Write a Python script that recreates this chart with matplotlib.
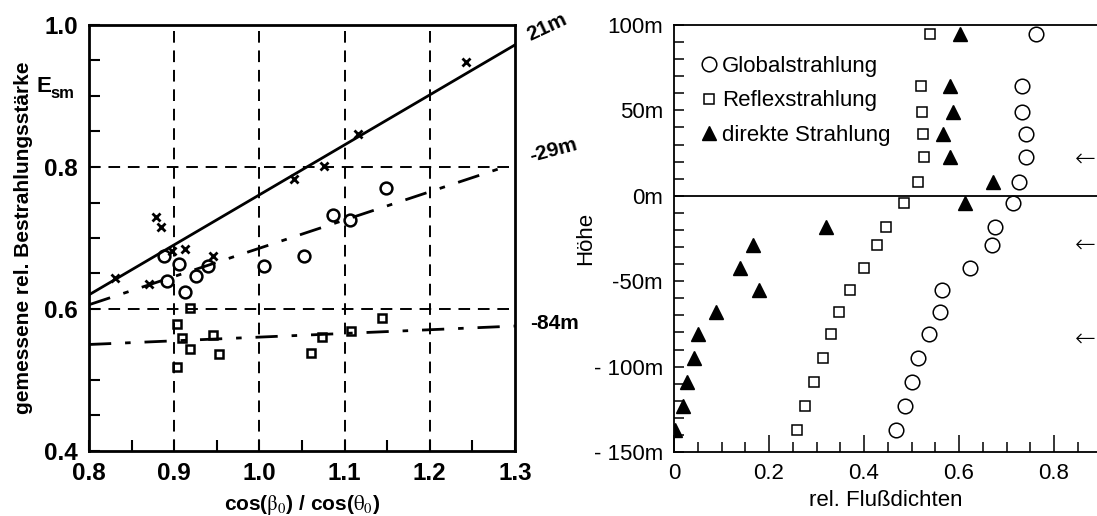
import numpy as np
import matplotlib
matplotlib.use("Agg")
import matplotlib.pyplot as plt
from matplotlib.ticker import MultipleLocator, FixedLocator

plt.rcParams['font.family'] = ['Liberation Sans', 'DejaVu Sans']
plt.rcParams['mathtext.fontset'] = 'stix'

# --- left panel: measured relative irradiance vs. cos ratio, three heights
x_21 = [0.830, 0.870, 0.879, 0.885, 0.897, 0.913, 0.946, 1.041, 1.076, 1.116, 1.242]
e_21 = [0.644, 0.635, 0.730, 0.715, 0.682, 0.684, 0.675, 0.783, 0.802, 0.846, 0.948]
x_29 = [0.888, 0.892, 0.906, 0.913, 0.925, 0.940, 1.005, 1.052, 1.086, 1.106, 1.149]
e_29 = [0.674, 0.640, 0.664, 0.624, 0.646, 0.660, 0.661, 0.674, 0.732, 0.725, 0.771]
x_84 = [0.919, 0.903, 0.909, 0.919, 0.903, 0.945, 0.953, 1.061, 1.074, 1.108, 1.144]
e_84 = [0.602, 0.579, 0.559, 0.543, 0.519, 0.564, 0.536, 0.538, 0.561, 0.569, 0.587]

# regression lines (start / end)
fit_x_21 = [0.80, 1.30]
fit_e_21 = [0.620, 0.972]
fit_x_29 = [0.80, 1.28]
fit_e_29 = [0.606, 0.797]
fit_x_84 = [0.80, 1.30]
fit_e_84 = [0.550, 0.576]

# --- right panel: relative flux densities over height
hoehe = [95, 64, 49, 36, 23, 8, -4, -18, -29, -42, -55, -68, -81, -95, -109, -123, -137]
global_str = [0.762, 0.732, 0.732, 0.740, 0.740, 0.726, 0.714, 0.676, 0.669, 0.623,
              0.565, 0.560, 0.536, 0.513, 0.502, 0.486, 0.467]
reflex_str = [0.538, 0.520, 0.523, 0.525, 0.527, 0.513, 0.484, 0.446, 0.427, 0.400,
              0.371, 0.347, 0.330, 0.313, 0.295, 0.276, 0.259]
direkt_str = [0.602, 0.581, 0.587, 0.567, 0.580, 0.671, 0.613, 0.319, 0.167, 0.139,
              0.179, 0.088, 0.051, 0.042, 0.027, 0.018, 0.003]
pfeil_hoehe = [21, -29, -84]

W, H = 1097, 516
fig = plt.figure(figsize=(W / 100, H / 100), dpi=100)

def box(l, t, r, b):
    return [l / W, 1 - b / H, (r - l) / W, (b - t) / H]

# ---------------- left panel
ax = fig.add_axes(box(89, 25, 515, 451))
ax.set_xlim(0.8, 1.3)
ax.set_ylim(0.4, 1.0)
for s in ax.spines.values():
    s.set_linewidth(2)

grid_kw = dict(color='black', lw=1.4, ls=(0, (6, 4)), zorder=1)
for gx in [0.9, 1.0, 1.1, 1.2]:
    ax.axvline(gx, **grid_kw)
for gy in [0.6, 0.8]:
    ax.axhline(gy, **grid_kw)

ax.plot(fit_x_21, fit_e_21, color='black', lw=2, zorder=2)
ax.plot(fit_x_29, fit_e_29, color='black', lw=2, ls=(0, (8, 5, 2, 5)), zorder=2)
ax.plot(fit_x_84, fit_e_84, color='black', lw=2, ls=(0, (8, 5, 2, 5)), zorder=2)

ax.plot(x_21, e_21, 'x', color='black', ms=6, mew=2, zorder=3)
ax.plot(x_29, e_29, 'o', mfc='none', mec='black', ms=8.5, mew=1.8, zorder=3)
ax.plot(x_84, e_84, 's', mfc='none', mec='black', ms=6, mew=1.8, zorder=3)

ax.xaxis.set_major_locator(MultipleLocator(0.1))
ax.xaxis.set_minor_locator(MultipleLocator(0.05))
ax.yaxis.set_major_locator(MultipleLocator(0.2))
ax.yaxis.set_minor_locator(MultipleLocator(0.05))
ax.tick_params(which='both', direction='in', top=False, right=False, width=1.5)
ax.tick_params(which='major', length=8, pad=8, labelsize=17.5)
ax.tick_params(which='minor', length=8)
ax.set_xticks([0.8, 0.9, 1.0, 1.1, 1.2, 1.3])
ax.set_xticklabels(['0.8', '0.9', '1.0', '1.1', '1.2', '1.3'], fontweight='bold')
ax.set_yticks([0.4, 0.6, 0.8, 1.0])
ax.set_yticklabels(['0.4', '0.6', '0.8', '1.0'], fontweight='bold')

ax.set_ylabel('gemessene rel. Bestrahlungsstärke', fontsize=15, fontweight='bold', labelpad=8)
ax.set_xlabel(r'cos($\mathrm{\beta_0}$) / cos($\mathrm{\theta_0}$)', fontsize=15,
              fontweight='bold', labelpad=6)
fig.text(36 / W, 1 - 86 / H, 'E', fontsize=16, fontweight='bold', ha='left', va='center')
fig.text(50 / W, 1 - 94 / H, 'sm', fontsize=12, fontweight='bold', ha='left', va='center')

lbl_kw = dict(textcoords='offset pixels', fontsize=15, fontweight='bold',
              ha='center', va='center', annotation_clip=False)
ax.annotate('21m', xy=(1.3, fit_e_21[1]), xytext=(32, 18), rotation=25, **lbl_kw)
ax.annotate('-29m', xy=(1.3, 0.8), xytext=(38, 17), rotation=15, **lbl_kw)
ax.annotate('-84m', xy=(1.3, fit_e_84[1]), xytext=(39, 3), **lbl_kw)

# ---------------- right panel
bx = fig.add_axes(box(674, 25, 1097, 452))
bx.set_xlim(0, 423 / 475)
bx.set_ylim(-150, 100)
bx.spines['right'].set_visible(False)
for s in ['left', 'top', 'bottom']:
    bx.spines[s].set_linewidth(1.3)
bx.axhline(0, color='black', lw=1.3)

bx.plot(global_str, hoehe, 'o', mfc='none', mec='black', ms=10.5, mew=1.1,
        label='Globalstrahlung')
bx.plot(reflex_str, hoehe, 's', mfc='none', mec='black', ms=7.5, mew=1.1,
        label='Reflexstrahlung')
bx.plot(direkt_str, hoehe, '^', color='black', ms=10, label='direkte Strahlung')

for h in pfeil_hoehe:
    bx.text(0.866, h, '←', fontsize=18, ha='center', va='center',
            family=['DejaVu Sans'], fontweight='light')

bx.yaxis.set_major_locator(FixedLocator([-150, -100, -50, 0, 50, 100]))
bx.yaxis.set_minor_locator(MultipleLocator(10))
bx.set_yticklabels(['- 150m', '- 100m', '-50m', '0m', '50m', '100m'])
bx.xaxis.set_major_locator(MultipleLocator(0.2))
bx.xaxis.set_minor_locator(MultipleLocator(0.05))
bx.set_xticks([0, 0.2, 0.4, 0.6, 0.8])
bx.set_xticklabels(['0', '0.2', '0.4', '0.6', '0.8'])
bx.tick_params(which='both', direction='in', top=False, right=False, width=1.1)
bx.tick_params(axis='y', which='both', length=7)
bx.tick_params(axis='x', which='major', length=12)
bx.tick_params(axis='x', which='minor', length=7)
bx.tick_params(which='major', labelsize=16, pad=8)

bx.set_ylabel('Höhe', fontsize=16, labelpad=-2)
bx.set_xlabel('rel. Flußdichten', fontsize=16, labelpad=4)

bx.legend(loc='upper left', bbox_to_anchor=(0.025, 0.965), frameon=False, fontsize=16,
          handlelength=0.8, handletextpad=0.2, labelspacing=0.62, borderaxespad=0.3)

fig.savefig('out.png', dpi=100)
